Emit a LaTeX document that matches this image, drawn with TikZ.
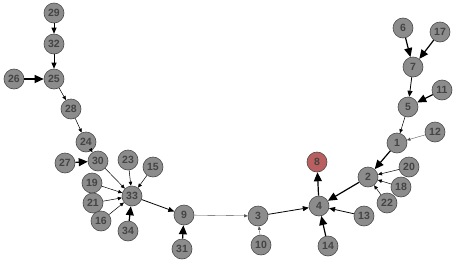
\documentclass[tikz,border=0pt]{standalone}
\usepackage{fontspec}
\setmainfont{Liberation Sans}
\usetikzlibrary{arrows.meta}
\definecolor{nfill}{RGB}{140,140,140}
\definecolor{ndraw}{RGB}{75,75,75}
\definecolor{ntext}{RGB}{68,68,68}
\definecolor{rfill}{RGB}{185,95,95}
\tikzset{
  nd/.style={circle,minimum size=20pt,inner sep=0pt,fill=nfill,draw=ndraw,line width=0.6pt,text=ntext,font=\bfseries\fontsize{10.5}{10.5}\selectfont},
  red/.style={nd,fill=rfill},
  ebig/.style={-{Triangle[length=9pt,width=8pt]},line width=1.2pt,black},
  emed/.style={-{Triangle[length=6pt,width=5pt]},line width=0.8pt,black},
  esm/.style={-{Triangle[length=4pt,width=3.5pt]},line width=0.5pt,black},
  ethin/.style={-{Triangle[length=3.5pt,width=3pt]},line width=0.35pt,black!70},
}
\begin{document}
\begin{tikzpicture}[x=1pt,y=-1pt]
\useasboundingbox (0,0) rectangle (458,263);
\node[nd] (29) at (54,13) {29};
\node[nd] (32) at (54,44) {32};
\node[nd] (25) at (54,79) {25};
\node[nd] (26) at (14,79) {26};
\node[nd] (28) at (71,109) {28};
\node[nd] (24) at (86,142) {24};
\node[nd] (30) at (98,161) {30};
\node[nd] (27) at (65,163) {27};
\node[nd] (23) at (128,160) {23};
\node[nd] (15) at (153,167) {15};
\node[nd] (19) at (92,183) {19};
\node[nd] (33) at (132,196) {33};
\node[nd] (21) at (93,203) {21};
\node[nd] (16) at (101,221) {16};
\node[nd] (34) at (128,231) {34};
\node[nd] (9) at (184,215) {9};
\node[nd] (31) at (182,249) {31};
\node[nd] (3) at (258,216) {3};
\node[nd] (10) at (261,245) {10};
\node[nd] (4) at (319,206) {4};
\node[red] (8) at (317,162) {8};
\node[nd] (14) at (328,246) {14};
\node[nd] (13) at (364,216) {13};
\node[nd] (2) at (368,177) {2};
\node[nd] (20) at (409,167) {20};
\node[nd] (18) at (401,187) {18};
\node[nd] (22) at (387,203) {22};
\node[nd] (1) at (397,143) {1};
\node[nd] (12) at (435,132) {12};
\node[nd] (5) at (408,107) {5};
\node[nd] (11) at (442,90) {11};
\node[nd] (7) at (413,67) {7};
\node[nd] (6) at (403,28) {6};
\node[nd] (17) at (440,32) {17};

\draw[emed] (29) -- (32);
\draw[emed] (32) -- (25);
\draw[ebig] (26) -- (25);
\draw[esm] (25) -- (28);
\draw[esm] (28) -- (24);
\draw[esm] (24) -- (30);
\draw[ebig] (27) -- (30);
\draw[esm] (30) -- (33);
\draw[esm] (19) -- (33);
\draw[esm] (21) -- (33);
\draw[esm] (16) -- (33);
\draw[esm] (23) -- (33);
\draw[esm] (15) -- (33);
\draw[ebig] (34) -- (33);
\draw[emed] (33) -- (9);
\draw[ebig] (31) -- (9);
\draw[ethin] (9) -- (3);
\draw[ethin] (10) -- (3);
\draw[emed] (3) -- (4);
\draw[emed] (13) -- (4);
\draw[ebig] (14) -- (4);
\draw[ebig] (2) -- (4);
\draw[ebig] (4) -- (8);
\draw[ebig] (1) -- (2);
\draw[esm] (20) -- (2);
\draw[esm] (18) -- (2);
\draw[esm] (22) -- (2);
\draw[ethin] (12) -- (1);
\draw[esm] (5) -- (1);
\draw[ebig] (11) -- (5);
\draw[emed] (7) -- (5);
\draw[ebig] (6) -- (7);
\draw[ebig] (17) -- (7);
\end{tikzpicture}
\end{document}
